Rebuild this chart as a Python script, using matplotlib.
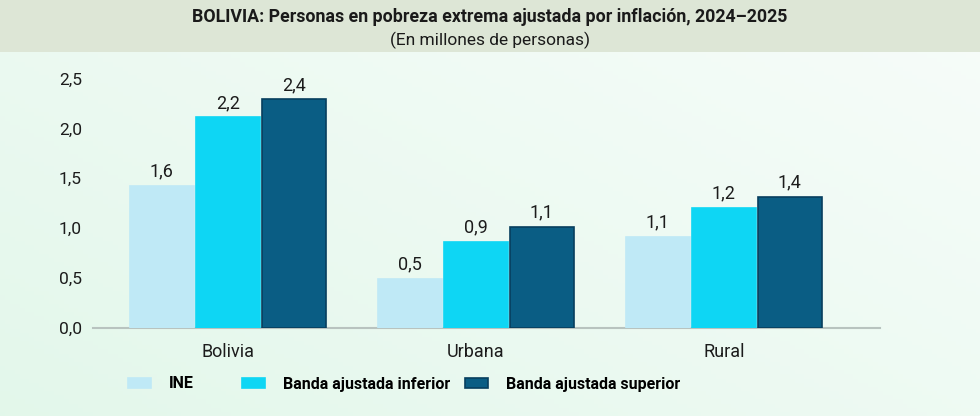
import numpy as np
import matplotlib
matplotlib.use("Agg")
import matplotlib.pyplot as plt
from matplotlib.patches import Rectangle

plt.rcParams['font.family'] = ['Liberation Sans Narrow', 'Roboto', 'DejaVu Sans']

# datos (alturas, etiquetas tal como aparecen)
categorias = ['Bolivia', 'Urbana', 'Rural']
series = ['INE', 'Banda ajustada inferior', 'Banda ajustada superior']
ine = [1.42, 0.49, 0.915]
inferior = [2.11, 0.865, 1.20]
superior = [2.29, 1.015, 1.315]
etiquetas_ine = ['1,6', '0,5', '1,1']
etiquetas_inf = ['2,2', '0,9', '1,2']
etiquetas_sup = ['2,4', '1,1', '1,4']
yticks = [0.0, 0.5, 1.0, 1.5, 2.0, 2.5]
ytick_labels = ['0,0', '0,5', '1,0', '1,5', '2,0', '2,5']

colores = ['#bfe9f6', '#0ed6f4', '#0a5d84']
bordes = ['#bfe9f6', '#0ed6f4', '#073e5e']

fig = plt.figure(figsize=(9.8, 4.16), dpi=100)

# fondo: degradado verde claro + banda de título
bg = fig.add_axes([0, 0, 1, 1], zorder=-10)
gx, gy = np.meshgrid(np.linspace(0, 1, 200), np.linspace(0, 1, 100))
c0 = np.array([0.89, 0.97, 0.92])
c1 = np.array([0.97, 0.99, 0.98])
t = np.clip(0.55 * gx + 0.45 * (1 - gy), 0, 1)[..., None]
img = c0 * (1 - t) + c1 * t
bg.imshow(img, extent=[0, 1, 0, 1], aspect='auto', origin='upper')
bg.add_patch(Rectangle((0, 1 - 52 / 416), 1, 52 / 416, color='#dde6d6', lw=0))
bg.set_xlim(0, 1)
bg.set_ylim(0, 1)
bg.axis('off')

ax = fig.add_axes([93 / 980, 1 - 328 / 416, (880 - 93) / 980, (328 - 78.5) / 416])
ax.patch.set_alpha(0)

x = np.arange(len(categorias))
w = 0.258
step = 0.266
valores = [ine, inferior, superior]
etiquetas = [etiquetas_ine, etiquetas_inf, etiquetas_sup]
barras = []
for i, (vals, labs) in enumerate(zip(valores, etiquetas)):
    b = ax.bar(x + (i - 1) * step, vals, width=w, color=colores[i],
               edgecolor=bordes[i], linewidth=1.2, label=series[i], zorder=3)
    barras.append(b)
    for rect, lab in zip(b, labs):
        ax.annotate(lab, (rect.get_x() + rect.get_width() / 2, rect.get_height()),
                    xytext=(0, 4), textcoords='offset points', ha='center',
                    va='bottom', fontsize=13, color='#1c1c1c')

ax.set_xlim(-0.544, 2.63)
ax.set_ylim(0, 2.5)
ax.set_yticks(yticks)
ax.set_yticklabels(ytick_labels)
ax.set_xticks(x)
ax.set_xticklabels(categorias)
ax.tick_params(axis='y', length=0, pad=8, labelsize=12.5, labelcolor='#1c1c1c')
ax.tick_params(axis='x', length=0, pad=11, labelsize=13, labelcolor='#1c1c1c')
for s in ['top', 'right', 'left']:
    ax.spines[s].set_visible(False)
ax.spines['bottom'].set_color('#b8c3bf')
ax.spines['bottom'].set_linewidth(1.5)

# leyenda en tres bloques separados
pos_leyenda = [128, 242, 465]
for b, nombre, px in zip(barras, series, pos_leyenda):
    fig.legend([b], [nombre], loc='center left', bbox_to_anchor=(px / 980, 1 - 384 / 416),
               frameon=False, borderpad=0, borderaxespad=0, handlelength=1.45,
               handleheight=0.6, handletextpad=1.1, prop={'weight': 'bold', 'size': 11.5})

fig.text(0.5, 1 - 17 / 416, 'BOLIVIA: Personas en pobreza extrema ajustada por inflación, 2024–2025',
         ha='center', va='center', fontsize=12.8, fontweight='bold', color='#1a1a1a')
fig.text(0.5, 1 - 40 / 416, '(En millones de personas)', ha='center', va='center',
         fontsize=12.5, color='#1a1a1a')

fig.savefig('out.png', dpi=100)
